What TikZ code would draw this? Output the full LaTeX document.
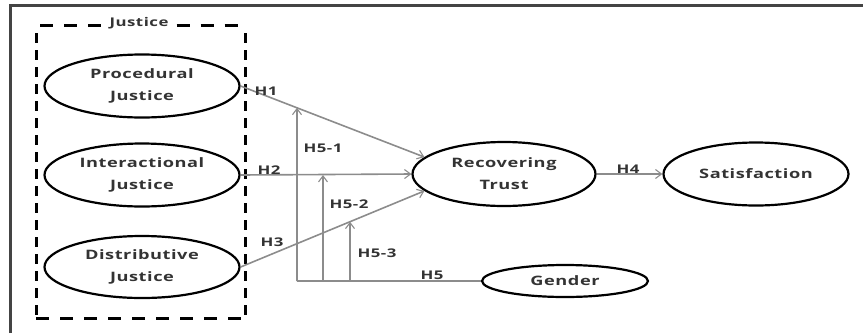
\documentclass[tikz,border=0pt]{standalone}
\usepackage{fontspec}
\usepackage{graphicx}
\setmainfont{Open Sans}[LetterSpace=3]
\usetikzlibrary{arrows.meta,calc,shapes.geometric}
\definecolor{txt}{HTML}{333333}
\definecolor{link}{HTML}{8C8C8C}
\definecolor{frame}{HTML}{444444}
% text set in a horizontally widened face
\newcommand{\wide}[1]{\scalebox{1.4}[1]{#1}}
\begin{document}
\begin{tikzpicture}[x=1pt,y=-1pt,
  construct/.style={ellipse,draw=black,line width=2.2pt,inner sep=0pt,
    text=txt,font=\fontsize{13}{22}\selectfont\bfseries,align=center},
  path/.style={draw=link,line width=1.6pt},
  arr/.style={path,-{Straight Barb[length=6pt,width=9pt,line width=1.1pt]}},
  hyp/.style={text=txt,font=\fontsize{12}{14}\selectfont\bfseries,inner sep=0pt},
  hside/.style={draw=black,line width=3pt,dash pattern=on 13pt off 11pt},
  vside/.style={draw=black,line width=3pt,dash pattern=on 10pt off 7pt}]
\useasboundingbox (0,0) rectangle (863,333);
% outer frame (top and left edges)
\draw[frame,line width=3pt] (10.5,333) -- (10.5,5) -- (863,5);
% constructs
\node[construct,minimum width=195pt,minimum height=63pt] (pj) at (142,86) {\wide{Procedural}\\\wide{Justice}};
\node[construct,minimum width=195pt,minimum height=63pt] (ij) at (142,175) {\wide{Interactional}\\\wide{Justice}};
\node[construct,minimum width=195pt,minimum height=62pt] (dj) at (142,267) {\wide{Distributive}\\\wide{Justice}};
\node[construct,minimum width=183pt,minimum height=64pt] (rt) at (504,174) {\wide{Recovering}\\\wide{Trust}};
\node[construct,minimum width=185pt,minimum height=63pt] (sat) at (756,174) {\wide{Satisfaction}};
\node[construct,minimum width=166pt,minimum height=32pt] (gen) at (565,281) {\wide{Gender}};
% justice group
\node[text=txt,font=\fontsize{12}{14}\selectfont\bfseries,inner xsep=8pt,inner ysep=2pt] (jt) at (139,23) {\wide{Justice}};
\coordinate (tl) at (40,25);
\coordinate (tr) at (245,25);
\coordinate (bl) at (36,318);
\coordinate (br) at (245,318);
\draw[hside] (tl) -- (jt.west |- tl);
\draw[hside] (jt.east |- tr) -- (tr);
\draw[hside] (bl) -- (br);
\draw[vside] (36,33) -- (bl);
\draw[vside] (245,33) -- (br);
% main paths
\draw[arr] (pj.east) -- (rt.168);
\draw[arr] (ij.east) -- (rt.west);
\draw[arr] (dj.east) -- (rt.192);
\draw[arr] (rt.east) -- (sat.west);
% moderator paths
\coordinate (m1) at (297,281);
\coordinate (m2) at (323,281);
\coordinate (m3) at (350,281);
\coordinate (m1t) at (297,0);
\coordinate (m3t) at (350,0);
\coordinate (pje) at (pj.east);
\coordinate (rtu) at (rt.168);
\coordinate (dje) at (dj.east);
\coordinate (rtd) at (rt.192);
\draw[path] (m1) -- (gen.west);
\draw[arr] (m1) -- (intersection of m1--m1t and pje--rtu);
\draw[arr] (m2) -- (m2 |- ij.east);
\draw[arr] (m3) -- (intersection of m3--m3t and dje--rtd);
% hypothesis labels
\node[hyp] (h1) at (266,91) {\wide{H1}};
\node[hyp] (h2) at (269,170) {\wide{H2}};
\node[hyp] (h3) at (272,242) {\wide{H3}};
\node[hyp] (h4) at (628,169) {\wide{H4}};
\node[hyp] (h5) at (432,275) {\wide{H5}};
\node[hyp] (h51) at (323,148) {\wide{H5-1}};
\node[hyp] (h52) at (349,204) {\wide{H5-2}};
\node[hyp] (h53) at (377,253) {\wide{H5-3}};
\end{tikzpicture}
\end{document}
